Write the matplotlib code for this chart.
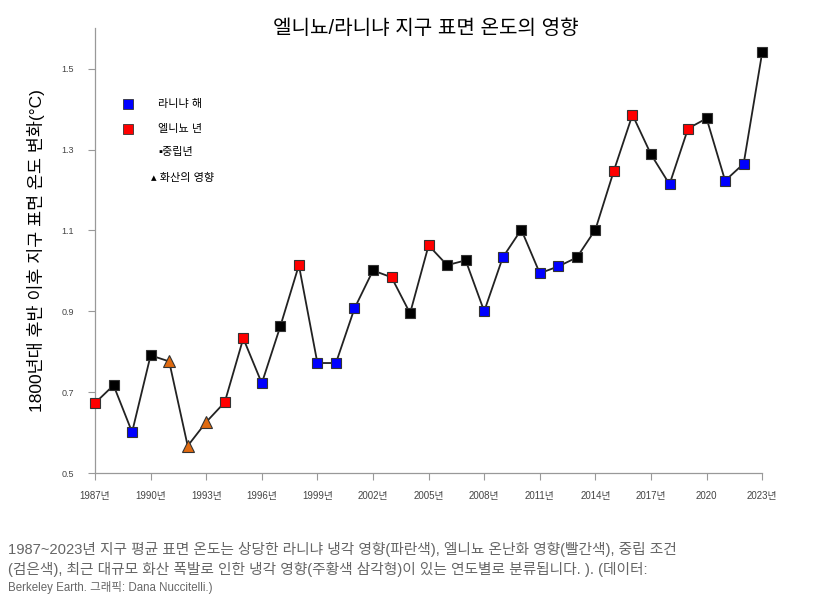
import numpy as np
import matplotlib.pyplot as plt

plt.rcParams['font.family'] = ['Liberation Sans', 'Noto Sans CJK KR', 'DejaVu Sans']

# annual anomaly vs late 1800s (deg C)
years = np.arange(1987, 2024)
temps = np.array([0.673, 0.717, 0.601, 0.791, 0.776, 0.567, 0.626, 0.675, 0.833, 0.722,
                  0.863, 1.014, 0.772, 0.772, 0.907, 1.001, 0.984, 0.895, 1.063, 1.014,
                  1.026, 0.900, 1.033, 1.102, 0.994, 1.011, 1.033, 1.102, 1.248, 1.386,
                  1.288, 1.214, 1.352, 1.377, 1.223, 1.265, 1.540])
# n = neutral, l = la nina, e = el nino, v = volcanic
kind = ['e', 'n', 'l', 'n', 'v', 'v', 'v', 'e', 'e', 'l',
        'n', 'e', 'l', 'l', 'l', 'n', 'e', 'n', 'e', 'n',
        'n', 'l', 'l', 'n', 'l', 'l', 'n', 'n', 'e', 'e',
        'n', 'l', 'e', 'n', 'l', 'l', 'n']

xticks = np.arange(1987, 2024, 3)
xlabels = ['1987년', '1990년', '1993년', '1996년', '1999년', '2002년', '2005년',
           '2008년', '2011년', '2014년', '2017년', '2020', '2023년']
yticks = [0.5, 0.7, 0.9, 1.1, 1.3, 1.5]

styles = {'l': ('s', '#0000ff'), 'e': ('s', '#ff0000'),
          'n': ('s', '#000000'), 'v': ('^', '#e06a10')}

fig = plt.figure(figsize=(8.35, 5.97), dpi=100)
ax = fig.add_axes([0.1138, 0.2077, 0.799, 0.745])

ax.plot(years, temps, color='#222222', lw=1.3, zorder=2)
kind = np.array(kind)
for k, (m, c) in styles.items():
    sel = kind == k
    ax.plot(years[sel], temps[sel], ls='none', marker=m, ms=7.5 if m == 's' else 8.5,
            mfc=c, mec='#333333', mew=0.8, zorder=3, clip_on=False)

ax.set_xlim(1987, 2023)
ax.set_ylim(0.5, 1.6)
ax.set_xticks(xticks)
ax.set_xticklabels(xlabels, fontsize=7, color='#444444')
ax.set_yticks(yticks)
ax.set_yticklabels([f'{v:.1f}' for v in yticks], fontsize=6.5, color='#444444')
ax.tick_params(axis='both', direction='out', length=5, color='#999999', width=0.8)
ax.tick_params(axis='x', pad=8)
ax.tick_params(axis='y', pad=10)
for s in ['top', 'right']:
    ax.spines[s].set_visible(False)
for s in ['left', 'bottom']:
    ax.spines[s].set_color('#999999')
    ax.spines[s].set_linewidth(0.9)

ax.set_ylabel('1800년대 후반 이후 지구 표면 온도 변화(°C)', fontsize=12.5, labelpad=12)
fig.text(0.510, 0.953, '엘니뇨/라니냐 지구 표면 온도의 영향', fontsize=14.5,
         ha='center', va='center')

# legend drawn by hand like the original
fig.text(0.216, 1 - 104 / 597, '라니냐 해', fontsize=8, ha='center', va='center')
fig.text(0.216, 1 - 129 / 597, '엘니뇨 년', fontsize=8, ha='center', va='center')
fig.text(0.210, 1 - 152 / 597, '▪중립년', fontsize=8, ha='center', va='center')
fig.text(0.219, 1 - 178 / 597, '▴ 화산의 영향', fontsize=8, ha='center', va='center')
fig.lines.append(plt.Line2D([128 / 835], [1 - 104 / 597], transform=fig.transFigure,
                            marker='s', ms=6.5, mfc='#0000ff', mec='#333333', mew=0.6))
fig.lines.append(plt.Line2D([128 / 835], [1 - 129 / 597], transform=fig.transFigure,
                            marker='s', ms=6.5, mfc='#ff0000', mec='#333333', mew=0.6))

cap_color = '#666666'
fig.text(8 / 835, 1 - 549 / 597,
         '1987~2023년 지구 평균 표면 온도는 상당한 라니냐 냉각 영향(파란색), 엘니뇨 온난화 영향(빨간색), 중립 조건',
         fontsize=10.6, color=cap_color, va='center')
fig.text(8 / 835, 1 - 569 / 597,
         '(검은색), 최근 대규모 화산 폭발로 인한 냉각 영향(주황색 삼각형)이 있는 연도별로 분류됩니다. ). (데이터:',
         fontsize=10.6, color=cap_color, va='center')
fig.text(8 / 835, 1 - 588 / 597, 'Berkeley Earth. 그래픽: Dana Nuccitelli.)',
         fontsize=8.3, color=cap_color, va='center')

fig.savefig('out.png', dpi=100)
